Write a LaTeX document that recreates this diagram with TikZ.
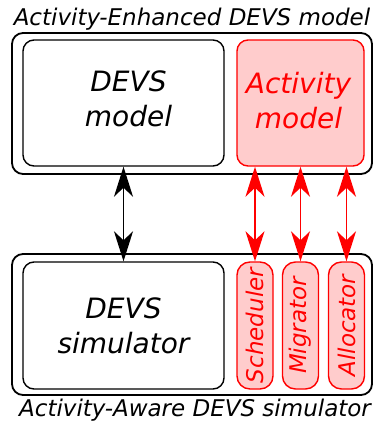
\documentclass[tikz,border=0pt]{standalone}
\usepackage{fontspec}
\setmainfont{DejaVu Sans}
\usetikzlibrary{arrows.meta}
\begin{document}
\begin{tikzpicture}[x=1pt,y=-1pt,
  outerbox/.style={draw=black,line width=1.8pt,rounded corners=11pt},
  innerbox/.style={draw=black,line width=1.4pt,rounded corners=11pt,inner sep=0pt},
  actbox/.style={draw=red,fill=red!20,line width=1.4pt,rounded corners=11pt,inner sep=0pt},
  boxtext/.style={align=center,font=\fontsize{28}{35}\selectfont\itshape,inner sep=0pt},
  pill/.style={draw=red,fill=red!20,line width=1.4pt,rounded corners=13pt,
    minimum width=36pt,minimum height=127pt,inner sep=0pt},
  pilltext/.style={text=red,rotate=90,font=\fontsize{23}{26}\selectfont\itshape,inner sep=0pt},
  title/.style={font=\fontsize{23}{26}\selectfont\itshape,anchor=base,inner sep=0pt},
  biarrow/.style={line width=1.4pt,{Stealth[length=30pt,width=19pt,inset=9pt]}-{Stealth[length=30pt,width=19pt,inset=9pt]}}
]
\useasboundingbox (0,0) rectangle (373,424);
% top
\node[outerbox,minimum width=360pt,minimum height=141pt] (topbox) at (192,103.5) {};
\node[innerbox,minimum width=201pt,minimum height=126pt] (devsmodel) at (123.5,103) {};
\node[actbox,minimum width=127pt,minimum height=126pt] (actmodel) at (300.5,103) {};
\node[boxtext] (devsmodeltext) at ([xshift=5pt,yshift=4.5pt]devsmodel.center) {DEVS\\model};
\node[boxtext,text=red] (actmodeltext) at ([xshift=-2pt,yshift=2pt]actmodel.center) {Activity\\model};
\node[title] (toptitle) at (192,25) {Activity-Enhanced DEVS model};
% bottom
\node[outerbox,minimum width=360pt,minimum height=141pt] (botbox) at (192,324.5) {};
\node[innerbox,minimum width=201pt,minimum height=127pt] (devssim) at (123.5,325.5) {};
\node[boxtext] (devssimtext) at (devssim.center) {DEVS\\simulator};
\node[pill] (sched) at (255,325.5) {};
\node[pill] (migr) at (300.5,325.5) {};
\node[pill] (alloc) at (346.5,325.5) {};
\node[pilltext] (schedtext) at (sched) {Scheduler};
\node[pilltext] (migrtext) at (migr) {Migrator};
\node[pilltext] (alloctext) at (alloc) {Allocator};
\node[title] (bottitle) at (195,416) {Activity-Aware DEVS simulator};
% arrows
\draw[biarrow] (devsmodel.south) -- (devssim.north);
\draw[biarrow,red] (actmodel.south -| sched.north) -- (sched.north);
\draw[biarrow,red] (actmodel.south -| migr.north) -- (migr.north);
\draw[biarrow,red] (actmodel.south -| alloc.north) -- (alloc.north);
\end{tikzpicture}
\end{document}
